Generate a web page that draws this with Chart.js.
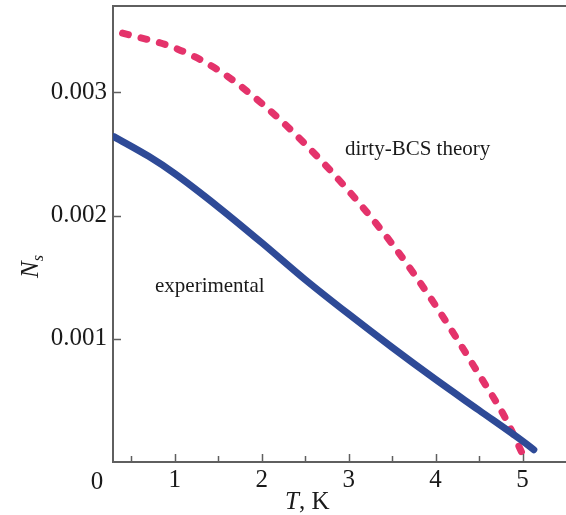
<!DOCTYPE html>
<html>
<head>
<meta charset="utf-8">
<script src="https://cdn.jsdelivr.net/npm/chart.js@4"></script>
<style>
  body { margin: 0; background: #fff; }
  #wrap { width: 566px; height: 515px; position: relative; }
</style>
</head>
<body>
<div id="wrap"><canvas id="chart"></canvas></div>
<script>
// temperature (K) and superfluid density
const tExp = [0.30, 0.70, 1.00, 1.50, 2.00, 2.50, 3.00, 3.50, 4.00, 4.50, 5.00, 5.13];
const nExp = [0.00264, 0.00248, 0.00234, 0.00207, 0.00178, 0.00148, 0.00120, 0.00093, 0.00067, 0.00042, 0.00017, 0.00010];

const tBcs = [0.40, 1.00, 1.50, 2.00, 2.50, 3.00, 3.50, 4.00, 4.50, 4.80, 5.01];
const nBcs = [0.00348, 0.00336, 0.00318, 0.00291, 0.00258, 0.00220, 0.00177, 0.00127, 0.00071, 0.00036, 0.00005];

const xTicks = [1, 2, 3, 4, 5];
const xMinor = [0.5, 1.5, 2.5, 3.5, 4.5];
const yTicks = [0.001, 0.002, 0.003];
const yLabels = ["0.001", "0.002", "0.003"];

const serif = "'Liberation Serif', 'Times New Roman', serif";
const axisColor = "#5f5f5f";
const blue = "#2e4a97";
const pink = "#e4336b";

const toPoints = (xs, ys) => xs.map((v, i) => ({ x: v, y: ys[i] }));

// frame, inward ticks, titles and annotations
const extras = {
  id: "extras",
  afterDraw(chart) {
    const { ctx, chartArea: a, scales } = chart;
    const x = scales.x;
    const y = scales.y;
    ctx.save();
    ctx.strokeStyle = axisColor;
    ctx.lineWidth = 2;
    ctx.beginPath();
    ctx.moveTo(a.left - 1, a.top);
    ctx.lineTo(a.right, a.top);
    ctx.stroke();

    ctx.lineWidth = 1.5;
    ctx.beginPath();
    xTicks.forEach((v) => {
      const px = Math.round(x.getPixelForValue(v)) + 0.5;
      ctx.moveTo(px, a.bottom);
      ctx.lineTo(px, a.bottom - 8);
    });
    xMinor.forEach((v) => {
      const px = Math.round(x.getPixelForValue(v)) + 0.5;
      ctx.moveTo(px, a.bottom);
      ctx.lineTo(px, a.bottom - 6);
    });
    yTicks.forEach((v) => {
      const py = Math.round(y.getPixelForValue(v)) + 0.5;
      ctx.moveTo(a.left, py);
      ctx.lineTo(a.left + 8, py);
    });
    ctx.stroke();

    ctx.fillStyle = "#1a1a1a";
    ctx.textBaseline = "alphabetic";

    // corner zero
    ctx.font = "25px " + serif;
    ctx.textAlign = "center";
    ctx.fillText("0", a.left - 16, a.bottom + 27);

    // x title: T, K
    ctx.textAlign = "left";
    ctx.font = "italic 25px " + serif;
    ctx.fillText("T", 285, 509);
    const tw = ctx.measureText("T").width;
    ctx.font = "25px " + serif;
    ctx.fillText(", K", 285 + tw, 509);

    // y title: N_s
    ctx.save();
    ctx.translate(38, 278);
    ctx.rotate(-Math.PI / 2);
    ctx.font = "italic 25px " + serif;
    ctx.fillText("N", 0, 0);
    const nw = ctx.measureText("N").width;
    ctx.font = "italic 16px " + serif;
    ctx.fillText("s", nw, 5);
    ctx.restore();

    // curve annotations
    ctx.font = "21px " + serif;
    ctx.fillText("dirty-BCS theory", 345, 155);
    ctx.fillText("experimental", 155, 292);
    ctx.restore();
  },
};

const ctx = document.getElementById("chart").getContext("2d");
const chart = new Chart(ctx, {
  type: "line",
  data: {
    datasets: [
      {
        label: "experimental",
        data: toPoints(tExp, nExp),
        borderColor: blue,
        borderWidth: 7,
        borderCapStyle: "round",
        cubicInterpolationMode: "monotone",
        pointRadius: 0,
        fill: false,
      },
      {
        label: "dirty-BCS theory",
        data: toPoints(tBcs, nBcs),
        borderColor: pink,
        borderWidth: 7,
        borderDash: [6, 13],
        borderCapStyle: "round",
        cubicInterpolationMode: "monotone",
        pointRadius: 0,
        fill: false,
      },
    ],
  },
  options: {
    responsive: true,
    maintainAspectRatio: false,
    animation: false,
    layout: { padding: { top: 6, right: 0, left: 0, bottom: 0 } },
    plugins: {
      legend: { display: false },
      tooltip: { enabled: false },
    },
    scales: {
      x: {
        type: "linear",
        min: 0.29,
        max: 5.5,
        afterBuildTicks: (s) => {
          s.ticks = xTicks.map((v) => ({ value: v }));
        },
        afterFit: (s) => {
          s.height = 53;
          s.paddingLeft = 0;
          s.paddingRight = 0;
        },
        grid: { drawOnChartArea: false, drawTicks: false },
        border: { display: true, color: axisColor, width: 2 },
        ticks: {
          padding: 3,
          color: "#1a1a1a",
          font: { family: serif, size: 25 },
          maxRotation: 0,
          callback: (v) => String(v),
        },
      },
      y: {
        min: 0,
        max: 0.0037,
        afterBuildTicks: (s) => {
          s.ticks = yTicks.map((v) => ({ value: v }));
        },
        afterFit: (s) => {
          s.width = 113;
          s.paddingTop = 0;
          s.paddingBottom = 0;
        },
        grid: { drawOnChartArea: false, drawTicks: false },
        border: { display: true, color: axisColor, width: 2 },
        ticks: {
          padding: 6,
          color: "#1a1a1a",
          font: { family: serif, size: 25 },
          callback: (v) => yLabels[yTicks.indexOf(v)],
        },
      },
    },
  },
  plugins: [extras],
});
</script>
</body>
</html>
